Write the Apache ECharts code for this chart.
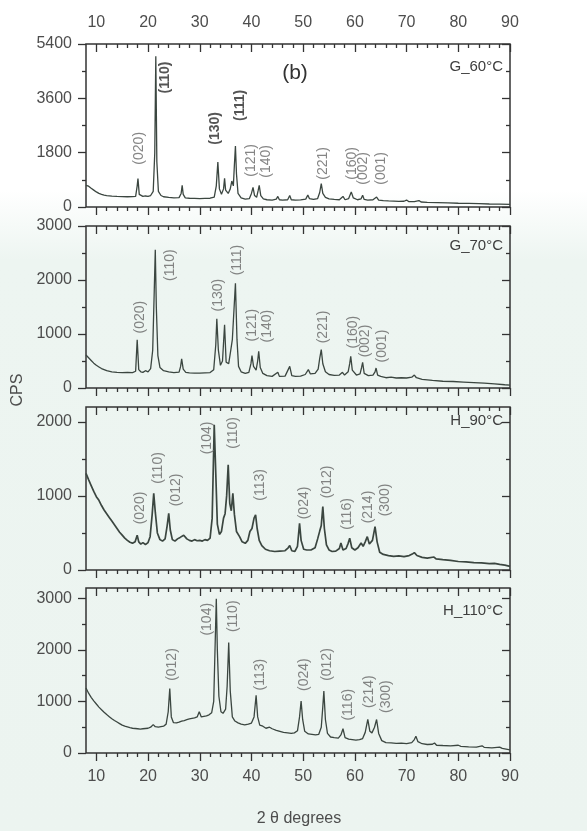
<!DOCTYPE html>
<html>
<head>
<meta charset="utf-8">
<script src="https://cdn.jsdelivr.net/npm/echarts@6.0.0/dist/echarts.min.js"></script>
<style>
  html, body { margin: 0; padding: 0; }
  body { background: linear-gradient(to bottom, #ffffff 0px, #ffffff 190px, #edf5f1 260px, #ecf4f0 100%); }
  #chart { width: 587px; height: 831px; }
</style>
</head>
<body>
<div id="chart"></div>
<script>
// x ticks (2 theta)
const xMajor = [10, 20, 30, 40, 50, 60, 70, 80, 90];
const xMinor = [12, 14, 16, 18, 22, 24, 26, 28, 32, 34, 36, 38, 42, 44, 46, 48, 52, 54, 56, 58, 62, 64, 66, 68, 72, 74, 76, 78, 82, 84, 86, 88];

// y ticks per panel
const yMax = [5400, 3000, 2200, 3200];
const yMajor = [[0, 1800, 3600, 5400], [0, 1000, 2000, 3000], [0, 1000, 2000], [0, 1000, 2000, 3000]];
const yMinor = [[900, 2700, 4500], [500, 1500, 2500], [500, 1500], [500, 1500, 2500]];

const panelNames = ['G_60°C', 'G_70°C', 'H_90°C', 'H_110°C'];

// G_60°C
const g60 = [[8,720],[8.5,690],[9,620],[9.5,560],[10,500],[10.5,450],[11,420],[11.5,395],[12,380],[13,360],[14,350],[15,345],[16,340],[17,345],[17.6,350],[17.9,700],[18.05,940],[18.3,420],[18.6,360],[19,350],[19.5,365],[20,355],[20.5,380],[21,520],[21.3,1800],[21.5,4990],[21.7,1500],[22,520],[22.5,380],[23,340],[24,320],[25,305],[26,310],[26.4,450],[26.6,720],[26.8,420],[27.2,300],[28,290],[29,285],[30,280],[31,285],[32,290],[32.8,330],[33.2,700],[33.5,1490],[33.8,600],[34.2,420],[34.6,600],[34.8,950],[35.0,560],[35.5,450],[35.9,600],[36.2,860],[36.5,700],[36.7,1400],[36.9,2020],[37.1,1100],[37.4,450],[38,300],[38.8,260],[39.6,280],[40.0,450],[40.3,650],[40.6,380],[41.0,320],[41.3,550],[41.5,720],[41.8,380],[42.3,270],[43,240],[44,230],[44.8,260],[45.1,350],[45.4,240],[46,230],[47,240],[47.4,380],[47.7,240],[48.5,230],[49.5,235],[50.5,260],[50.9,400],[51.2,280],[52,250],[52.8,280],[53.2,480],[53.5,775],[53.8,450],[54.3,320],[55,270],[56,250],[57,240],[57.7,350],[58.1,240],[58.8,280],[59.3,500],[59.7,300],[60.5,240],[61.2,270],[61.5,390],[61.8,250],[62.5,230],[63.5,240],[64.2,330],[64.6,230],[65.5,210],[66.5,200],[67.5,195],[68.5,185],[69.5,190],[70,230],[70.4,180],[71.5,175],[72.4,215],[72.8,165],[74,155],[76,145],[78,135],[80,125],[82,118],[84,110],[86,100],[88,95],[90,90]];

// G_70°C
const g70 = [[8,610],[8.5,560],[9,510],[9.5,460],[10,420],[10.5,390],[11,360],[11.5,340],[12,320],[13,300],[14,290],[15,285],[16,290],[17,285],[17.6,310],[17.9,895],[18.2,340],[18.6,300],[19,290],[19.5,320],[20,300],[20.5,360],[20.9,700],[21.2,1800],[21.4,2560],[21.6,1500],[21.9,600],[22.3,380],[23,320],[24,300],[25,285],[26,295],[26.3,400],[26.5,540],[26.8,350],[27.3,290],[28,280],[29,275],[30,275],[31,280],[32,285],[32.7,340],[33.1,800],[33.3,1280],[33.6,700],[34.0,420],[34.4,500],[34.8,1170],[35.1,480],[35.6,450],[36.0,700],[36.3,895],[36.6,900],[36.9,1940],[37.2,900],[37.5,400],[38,300],[38.8,270],[39.5,290],[39.9,450],[40.1,600],[40.4,400],[40.9,330],[41.2,500],[41.4,680],[41.7,380],[42.2,270],[43,230],[44,215],[45.1,290],[45.4,215],[46.5,220],[47.4,400],[47.8,230],[48.5,215],[49.5,220],[50.4,250],[51,340],[51.4,260],[52.3,270],[52.9,350],[53.2,550],[53.5,710],[53.8,450],[54.3,300],[55,250],[56,235],[57,240],[57.6,290],[58,240],[58.7,300],[59.0,450],[59.2,585],[59.5,330],[60.3,240],[61,260],[61.3,380],[61.5,475],[61.8,270],[62.6,230],[63.5,240],[63.9,300],[64.1,370],[64.4,240],[65,215],[66,190],[67,200],[68,185],[69,190],[70,185],[71,200],[71.5,240],[71.9,190],[73,160],[75,140],[77,125],[79,120],[81,110],[83,100],[85,90],[87,75],[89,60],[90,55]];

// H_90°C
const h90 = [[8,1305],[8.5,1220],[9,1140],[9.5,1060],[10,990],[10.5,940],[11,870],[11.5,810],[12,760],[12.5,710],[13,660],[13.5,610],[14,560],[14.5,510],[15,470],[15.5,430],[16,400],[16.5,375],[17,360],[17.5,380],[17.9,470],[18.2,380],[18.6,350],[19,370],[19.5,345],[20,370],[20.4,450],[20.8,750],[21.1,1035],[21.4,780],[21.8,500],[22.3,410],[22.8,390],[23.3,420],[23.7,600],[24,765],[24.3,540],[24.7,410],[25.2,390],[25.7,420],[26.2,440],[26.9,470],[27.5,420],[28,400],[28.5,390],[29,410],[29.5,395],[30,400],[30.5,390],[31,410],[31.5,400],[32,430],[32.4,700],[32.8,1960],[33.1,1300],[33.4,620],[33.8,480],[34.2,520],[34.6,700],[34.9,760],[35.2,1000],[35.5,1420],[35.8,900],[36.1,800],[36.4,1035],[36.7,750],[37.1,520],[37.7,450],[38.2,380],[38.8,360],[39.3,400],[39.7,520],[40.1,560],[40.5,700],[40.8,745],[41.1,560],[41.5,400],[42,330],[42.7,280],[43.5,260],[44.5,250],[45.5,255],[46.5,260],[47.1,300],[47.4,330],[47.8,260],[48.4,250],[48.9,320],[49.3,630],[49.6,400],[50.1,280],[50.7,270],[51.5,270],[52.3,300],[52.8,420],[53.2,525],[53.5,600],[53.8,855],[54.1,560],[54.5,340],[55,270],[55.6,250],[56.3,255],[57,290],[57.3,365],[57.7,270],[58.3,290],[58.7,360],[59,430],[59.4,300],[60,270],[60.6,300],[61.2,365],[61.6,320],[62,380],[62.4,450],[62.8,350],[63.4,400],[63.9,585],[64.3,380],[64.8,240],[65.5,210],[66.5,195],[67.5,185],[68.5,190],[69.5,180],[70.5,195],[71.1,215],[71.5,235],[72,195],[73,170],[74,160],[75.3,175],[75.7,150],[77,140],[78.5,130],[80,115],[81.5,110],[83,100],[84.5,95],[86,85],[87,90],[88,75],[89,65],[90,50]];

// H_110°C
const h110 = [[8,1260],[8.5,1160],[9,1080],[9.5,1010],[10,950],[10.5,890],[11,840],[11.5,790],[12,745],[12.5,705],[13,665],[13.5,630],[14,600],[14.5,570],[15,540],[15.5,520],[16,505],[16.5,490],[17,480],[17.5,475],[18,470],[18.5,465],[19,470],[19.5,475],[20,480],[20.5,500],[21,550],[21.4,510],[22,500],[22.5,510],[23,520],[23.5,560],[23.9,800],[24.2,1250],[24.5,700],[24.9,590],[25.5,585],[26,600],[26.5,620],[27,630],[27.5,645],[28,660],[28.5,670],[29,680],[29.5,700],[29.9,800],[30.3,700],[30.8,710],[31.3,720],[31.8,740],[32.3,780],[32.7,1000],[33.0,2200],[33.2,2990],[33.4,2000],[33.7,1100],[34.1,800],[34.5,770],[35.0,850],[35.3,1300],[35.6,2145],[35.9,1200],[36.3,700],[36.8,620],[37.4,585],[38,560],[38.7,545],[39.4,560],[40.0,580],[40.5,700],[40.9,1120],[41.2,700],[41.6,540],[42.2,520],[42.8,480],[43.5,500],[44,470],[44.8,440],[45.5,420],[46.2,400],[47,390],[47.7,380],[48.3,390],[48.9,430],[49.3,700],[49.6,1005],[49.9,650],[50.3,420],[51,370],[51.7,360],[52.4,350],[53,360],[53.5,500],[53.8,900],[54.0,1200],[54.3,650],[54.7,380],[55.3,310],[56,300],[56.8,290],[57.3,350],[57.7,470],[58.1,300],[58.8,270],[59.5,260],[60.2,250],[60.9,260],[61.5,280],[62,400],[62.5,650],[62.9,420],[63.3,390],[63.8,500],[64.2,650],[64.6,380],[65.2,240],[66,200],[67,195],[68,185],[69,190],[70,180],[71,200],[71.5,260],[71.8,325],[72.2,220],[73,180],[74,165],[75,170],[75.4,195],[75.8,150],[77,145],[78.5,140],[80,150],[80.5,130],[82,120],[83.5,115],[84.6,140],[85,110],[86.5,100],[88,115],[88.5,90],[89.5,70],[90,60]];

// peak labels: [text, x, y, bold]
const g60Labels = [['(020)',18.25,1945,0],['(110)',23.4,4290,1],['(130)',32.9,2605,1],['(111)',37.8,3365,1],['(121)',40.0,1545,0],['(140)',42.9,1510,0],['(221)',53.9,1445,0],['(160)',59.4,1445,0],['(002)',61.6,1280,0],['(001)',65.1,1280,0]];
const g70Labels = [['(020)',18.4,1313,0],['(110)',24.2,2275,0],['(130)',33.5,1720,0],['(111)',37.2,2370,0],['(121)',40.1,1165,0],['(140)',43.0,1147,0],['(221)',53.8,1130,0],['(160)',59.6,1036,0],['(002)',62.0,870,0],['(001)',65.3,777,0]];
const h90Labels = [['(020)',18.4,837,0],['(110)',21.9,1377,0],['(012)',25.4,1080,0],['(104)',31.4,1782,0],['(110)',36.4,1850,0],['(113)',41.7,1148,0],['(024)',50.2,905,0],['(012)',54.6,1188,0],['(116)',58.5,756,0],['(214)',62.5,850,0],['(300)',65.8,945,0]];
const h110Labels = [['(012)',24.6,1716,0],['(104)',31.4,2594,0],['(110)',36.4,2652,0],['(113)',41.7,1521,0],['(024)',50.2,1521,0],['(012)',54.6,1716,0],['(116)',58.7,936,0],['(214)',62.7,1190,0],['(300)',66.0,1092,0]];

const patterns = [g60, g70, h90, h110];
const peakLabels = [g60Labels, g70Labels, h90Labels, h110Labels];

const FONT = 'Liberation Sans, Arial, sans-serif';
const TICK = '#333';
const gridTops = [44, 226, 407, 588];
const gridHeights = [163, 162, 163, 165];

function xAxisFor(g, pos, vals, len, labels) {
    return {
        type: 'value', gridIndex: g, position: pos, min: 8, max: 90,
        axisLine: { show: false, onZero: false },
        splitLine: { show: false },
        axisTick: { show: true, customValues: vals, inside: pos === 'top', length: len, lineStyle: { color: TICK, width: 1.3 } },
        axisLabel: labels
            ? { show: true, customValues: vals, margin: pos === 'top' ? 13 : 16, fontSize: 16, color: '#4d4d4d', fontFamily: FONT, formatter: v => String(v) }
            : { show: false }
    };
}

function yAxisFor(g, pos, vals, len, labels) {
    return {
        type: 'value', gridIndex: g, position: pos, min: 0, max: yMax[g],
        axisLine: { show: false, onZero: false },
        splitLine: { show: false },
        axisTick: { show: true, customValues: vals, inside: pos === 'right', length: len, lineStyle: { color: TICK, width: 1.3 } },
        axisLabel: labels
            ? { show: true, customValues: vals, margin: 14, fontSize: 16, color: '#4d4d4d', fontFamily: FONT, formatter: v => String(v) }
            : { show: false }
    };
}

const grid = [], xAxis = [], yAxis = [], series = [];
for (let g = 0; g < 4; g++) {
    grid.push({ left: 86, right: 77, top: gridTops[g], height: gridHeights[g], show: true, borderColor: '#333', borderWidth: 1.5, backgroundColor: 'transparent' });
    // bottom major/minor, top major/minor
    xAxis.push(xAxisFor(g, 'bottom', xMajor, 8, g === 3));
    xAxis.push(xAxisFor(g, 'bottom', xMinor, 4, false));
    xAxis.push(xAxisFor(g, 'top', xMajor, 8, g === 0));
    xAxis.push(xAxisFor(g, 'top', xMinor, 4, false));
    // left major/minor, right major/minor
    yAxis.push(yAxisFor(g, 'left', yMajor[g], 8, true));
    yAxis.push(yAxisFor(g, 'left', yMinor[g], 4, false));
    yAxis.push(yAxisFor(g, 'right', yMajor[g], 8, false));
    yAxis.push(yAxisFor(g, 'right', yMinor[g], 4, false));

    series.push({
        type: 'line', xAxisIndex: 4 * g, yAxisIndex: 4 * g,
        data: patterns[g], showSymbol: false, silent: true,
        lineStyle: { color: '#3b4640', width: g === 2 ? 1.7 : 1.3 }
    });
    series.push({
        type: 'scatter', xAxisIndex: 4 * g, yAxisIndex: 4 * g, silent: true, z: 5,
        symbolSize: 1, itemStyle: { color: 'rgba(0,0,0,0)' },
        data: peakLabels[g].map(p => ({
            name: p[0], value: [p[1], p[2]],
            label: p[3] ? { color: '#2a2a2a', fontWeight: 'bold' } : {}
        })),
        label: { show: true, position: 'inside', rotate: 90, formatter: '{b}', fontSize: 14, color: '#666', fontFamily: FONT }
    });
}

// panel names, (b), axis titles
const nameY = [67, 246, 421, 611];
const graphic = panelNames.map((t, i) => ({
    type: 'text', x: 503, y: nameY[i],
    style: { text: t, fill: '#3d3d3d', font: '15px ' + FONT, textAlign: 'right', textVerticalAlign: 'middle' }
}));
graphic.push({ type: 'text', x: 295, y: 73, style: { text: '(b)', fill: '#333', font: '21px ' + FONT, textAlign: 'center', textVerticalAlign: 'middle' } });
graphic.push({ type: 'text', x: 18, y: 390, rotation: Math.PI / 2, style: { text: 'CPS', fill: '#4d4d4d', font: '16px ' + FONT, textAlign: 'center', textVerticalAlign: 'middle' } });
graphic.push({ type: 'text', x: 299, y: 819, style: { text: '2 θ degrees', fill: '#4d4d4d', font: '16px ' + FONT, textAlign: 'center', textVerticalAlign: 'middle' } });

const myChart = echarts.init(document.getElementById('chart'));
myChart.setOption({
    animation: false,
    backgroundColor: 'transparent',
    grid: grid,
    xAxis: xAxis,
    yAxis: yAxis,
    series: series,
    graphic: graphic
});
</script>
</body>
</html>
